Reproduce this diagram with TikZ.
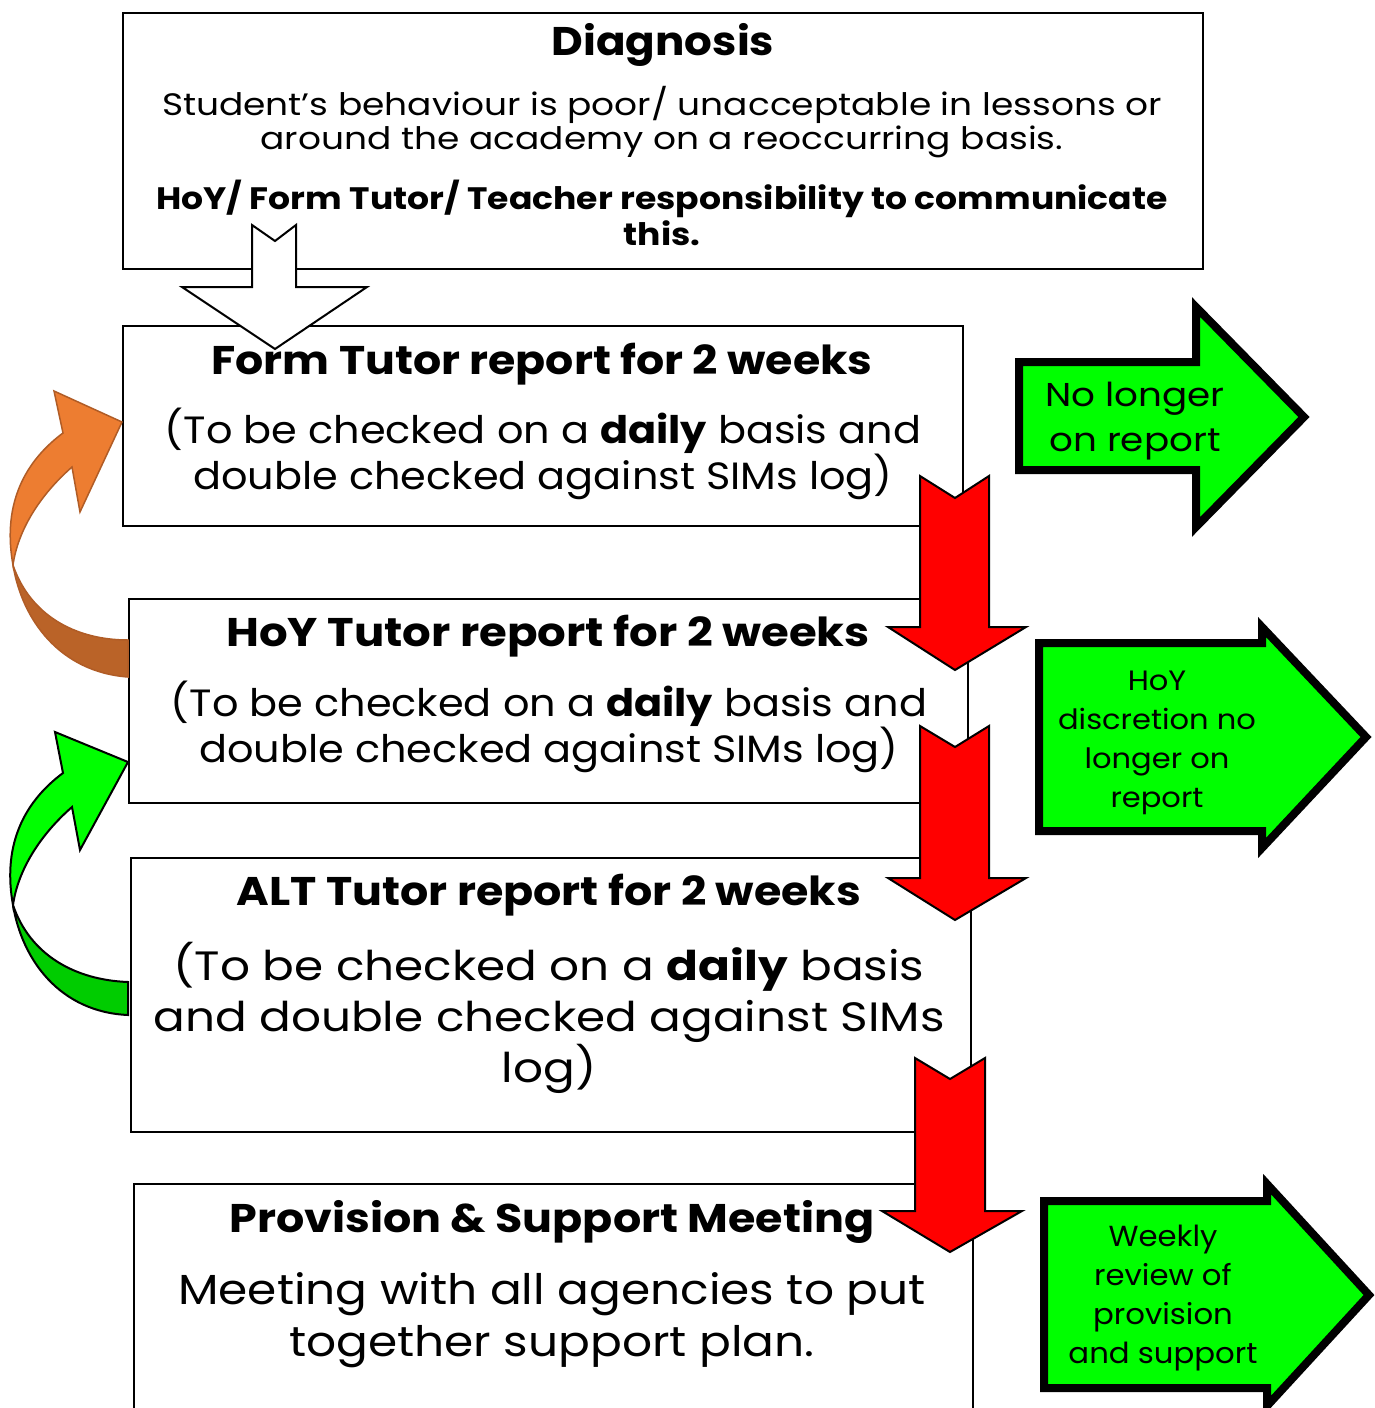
\documentclass[tikz,border=0pt]{standalone}
\usepackage{fontspec}
\setmainfont{Poppins}
\newcommand{\fsz}[3]{\fontsize{#1pt}{#2pt}\selectfont\addfontfeature{FakeStretch=#3}}
\definecolor{brightgreen}{HTML}{00FF00}
\definecolor{darkgreen}{HTML}{00CC00}
\definecolor{orfront}{HTML}{ED7D31}
\definecolor{orback}{HTML}{BA6328}
\definecolor{orline}{HTML}{B05C26}
\begin{document}
\begin{tikzpicture}[x=1pt,y=-1pt,
  box/.style={draw=black,line width=2pt,fill=white,anchor=north west,inner sep=0pt},
  redarrow/.style={fill=red,draw=black,line width=2pt,line join=miter},
  whitearrow/.style={fill=white,draw=black,line width=2pt,line join=miter},
  greenarrow/.style={fill=brightgreen,draw=black,line width=8pt,line join=miter},
  txt/.style={align=center,inner sep=0pt,text=black}]
\clip (0,0) rectangle (1375,1408);
\fill[white] (0,0) rectangle (1375,1408);

% boxes
\node[box,minimum width=1080pt,minimum height=256pt] (diag) at (122,12) {};
\node[box,minimum width=840pt,minimum height=200pt] (form) at (122,325) {};
\node[box,minimum width=839pt,minimum height=204pt] (hoy) at (128,598) {};
\node[box,minimum width=840pt,minimum height=274pt] (alt) at (130,857) {};
\node[box,minimum width=839pt,minimum height=260pt] (prov) at (133,1183) {};

% white arrow diag -> form
\draw[whitearrow] (252,225) -- (275,241) -- (296,225) -- (296,287) -- (367,287) -- (275,349) -- (182,287) -- (252,287) -- cycle;

% red arrows
\draw[redarrow] (920,476) -- (955,498) -- (989,476) -- (989,627) -- (1026,627) -- (955,670) -- (888,627) -- (920,627) -- cycle;
\draw[redarrow] (920,726) -- (955,747) -- (989,726) -- (989,878) -- (1026,878) -- (955,920) -- (888,878) -- (920,878) -- cycle;
\draw[redarrow] (915,1058) -- (950,1079) -- (985,1058) -- (985,1211) -- (1022,1211) -- (950,1252) -- (882,1211) -- (915,1211) -- cycle;

% green block arrows
\draw[greenarrow] (1019,362) -- (1196,362) -- (1196,307) -- (1304,417) -- (1196,527) -- (1196,470) -- (1019,470) -- cycle;
\draw[greenarrow] (1039,643) -- (1262,643) -- (1262,627) -- (1366,737) -- (1262,848) -- (1262,831) -- (1039,831) -- cycle;
\draw[greenarrow] (1044,1201) -- (1267,1201) -- (1267,1184) -- (1369,1295) -- (1267,1406) -- (1267,1388) -- (1044,1388) -- cycle;

% curved green arrow alt -> hoy
\draw[fill=darkgreen,draw=black,line width=2pt] (13,905) .. controls (22,960) and (60,1012) .. (128,1015) -- (128,982) .. controls (75,980) and (30,955) .. (13,905) -- cycle;
\draw[fill=brightgreen,draw=black,line width=2pt,line join=miter] (13,905) .. controls (3,850) and (20,805) .. (63,773) -- (55,732) -- (128,762) -- (80,850) -- (72,807) .. controls (40,835) and (18,870) .. (13,905) -- cycle;

% curved orange arrow hoy -> form
\begin{scope}[yshift=340pt]
\draw[fill=orback,draw=orline,line width=1.5pt] (13,905) .. controls (22,960) and (60,1012) .. (128,1017) -- (128,980) .. controls (75,980) and (30,955) .. (13,905) -- cycle;
\draw[fill=orfront,draw=orline,line width=1.5pt,line join=miter] (13,905) .. controls (3,850) and (20,805) .. (63,773) -- (54,731) -- (122,762) -- (80,852) -- (72,807) .. controls (40,835) and (18,870) .. (13,905) -- cycle;
\end{scope}

% texts
\node[txt,font=\fsz{40}{44}{1.09}\bfseries] (t1a) at (663,45) {Diagnosis};
\node[txt,font=\fsz{31}{34}{1.16}] (t1b) at (662,122) {Student’s behaviour is poor/ unacceptable in lessons or\\around the academy on a reoccurring basis.};
\node[txt,font=\fsz{31}{36}{1.116}\bfseries] (t1c) at (662,213) {HoY/ Form Tutor/ Teacher responsibility to communicate\\this.};

\node[txt,font=\fsz{40}{44}{1.107}\bfseries] (t2a) at (542,364) {Form Tutor report for 2 weeks};
\node[txt,font=\fsz{38}{46}{1.09}] (t2b) at (543,454) {(To be checked on a \textbf{daily} basis and\\double checked against SIMs log)};

\node[txt,font=\fsz{40}{44}{1.125}\bfseries] (t3a) at (548,636) {HoY Tutor report for 2 weeks};
\node[txt,font=\fsz{38}{46}{1.09}] (t3b) at (549,727) {(To be checked on a \textbf{daily} basis and\\double checked against SIMs log)};

\node[txt,font=\fsz{40}{44}{1.11}\bfseries] (t4a) at (549,895) {ALT Tutor report for 2 weeks};
\node[txt,font=\fsz{41}{51}{1.145}] (t4b) at (549,1018) {(To be checked on a \textbf{daily} basis\\and double checked against SIMs\\log)};

\node[txt,font=\fsz{40}{44}{1.11}\bfseries] (t5a) at (552,1222) {Provision \& Support Meeting};
\node[txt,font=\fsz{42}{52}{1.12}] (t5b) at (552,1320) {Meeting with all agencies to put\\together support plan.};

\node[txt,font=\fsz{33}{45}{1.13}] (g1) at (1135,421) {No longer\\on report};
\node[txt,font=\fsz{28}{39}{1.09}] (g2) at (1157,743) {HoY\\discretion no\\longer on\\report};
\node[txt,font=\fsz{29}{39}{1.06}] (g3) at (1163,1298) {Weekly\\review of\\provision\\and support};
\end{tikzpicture}
\end{document}
